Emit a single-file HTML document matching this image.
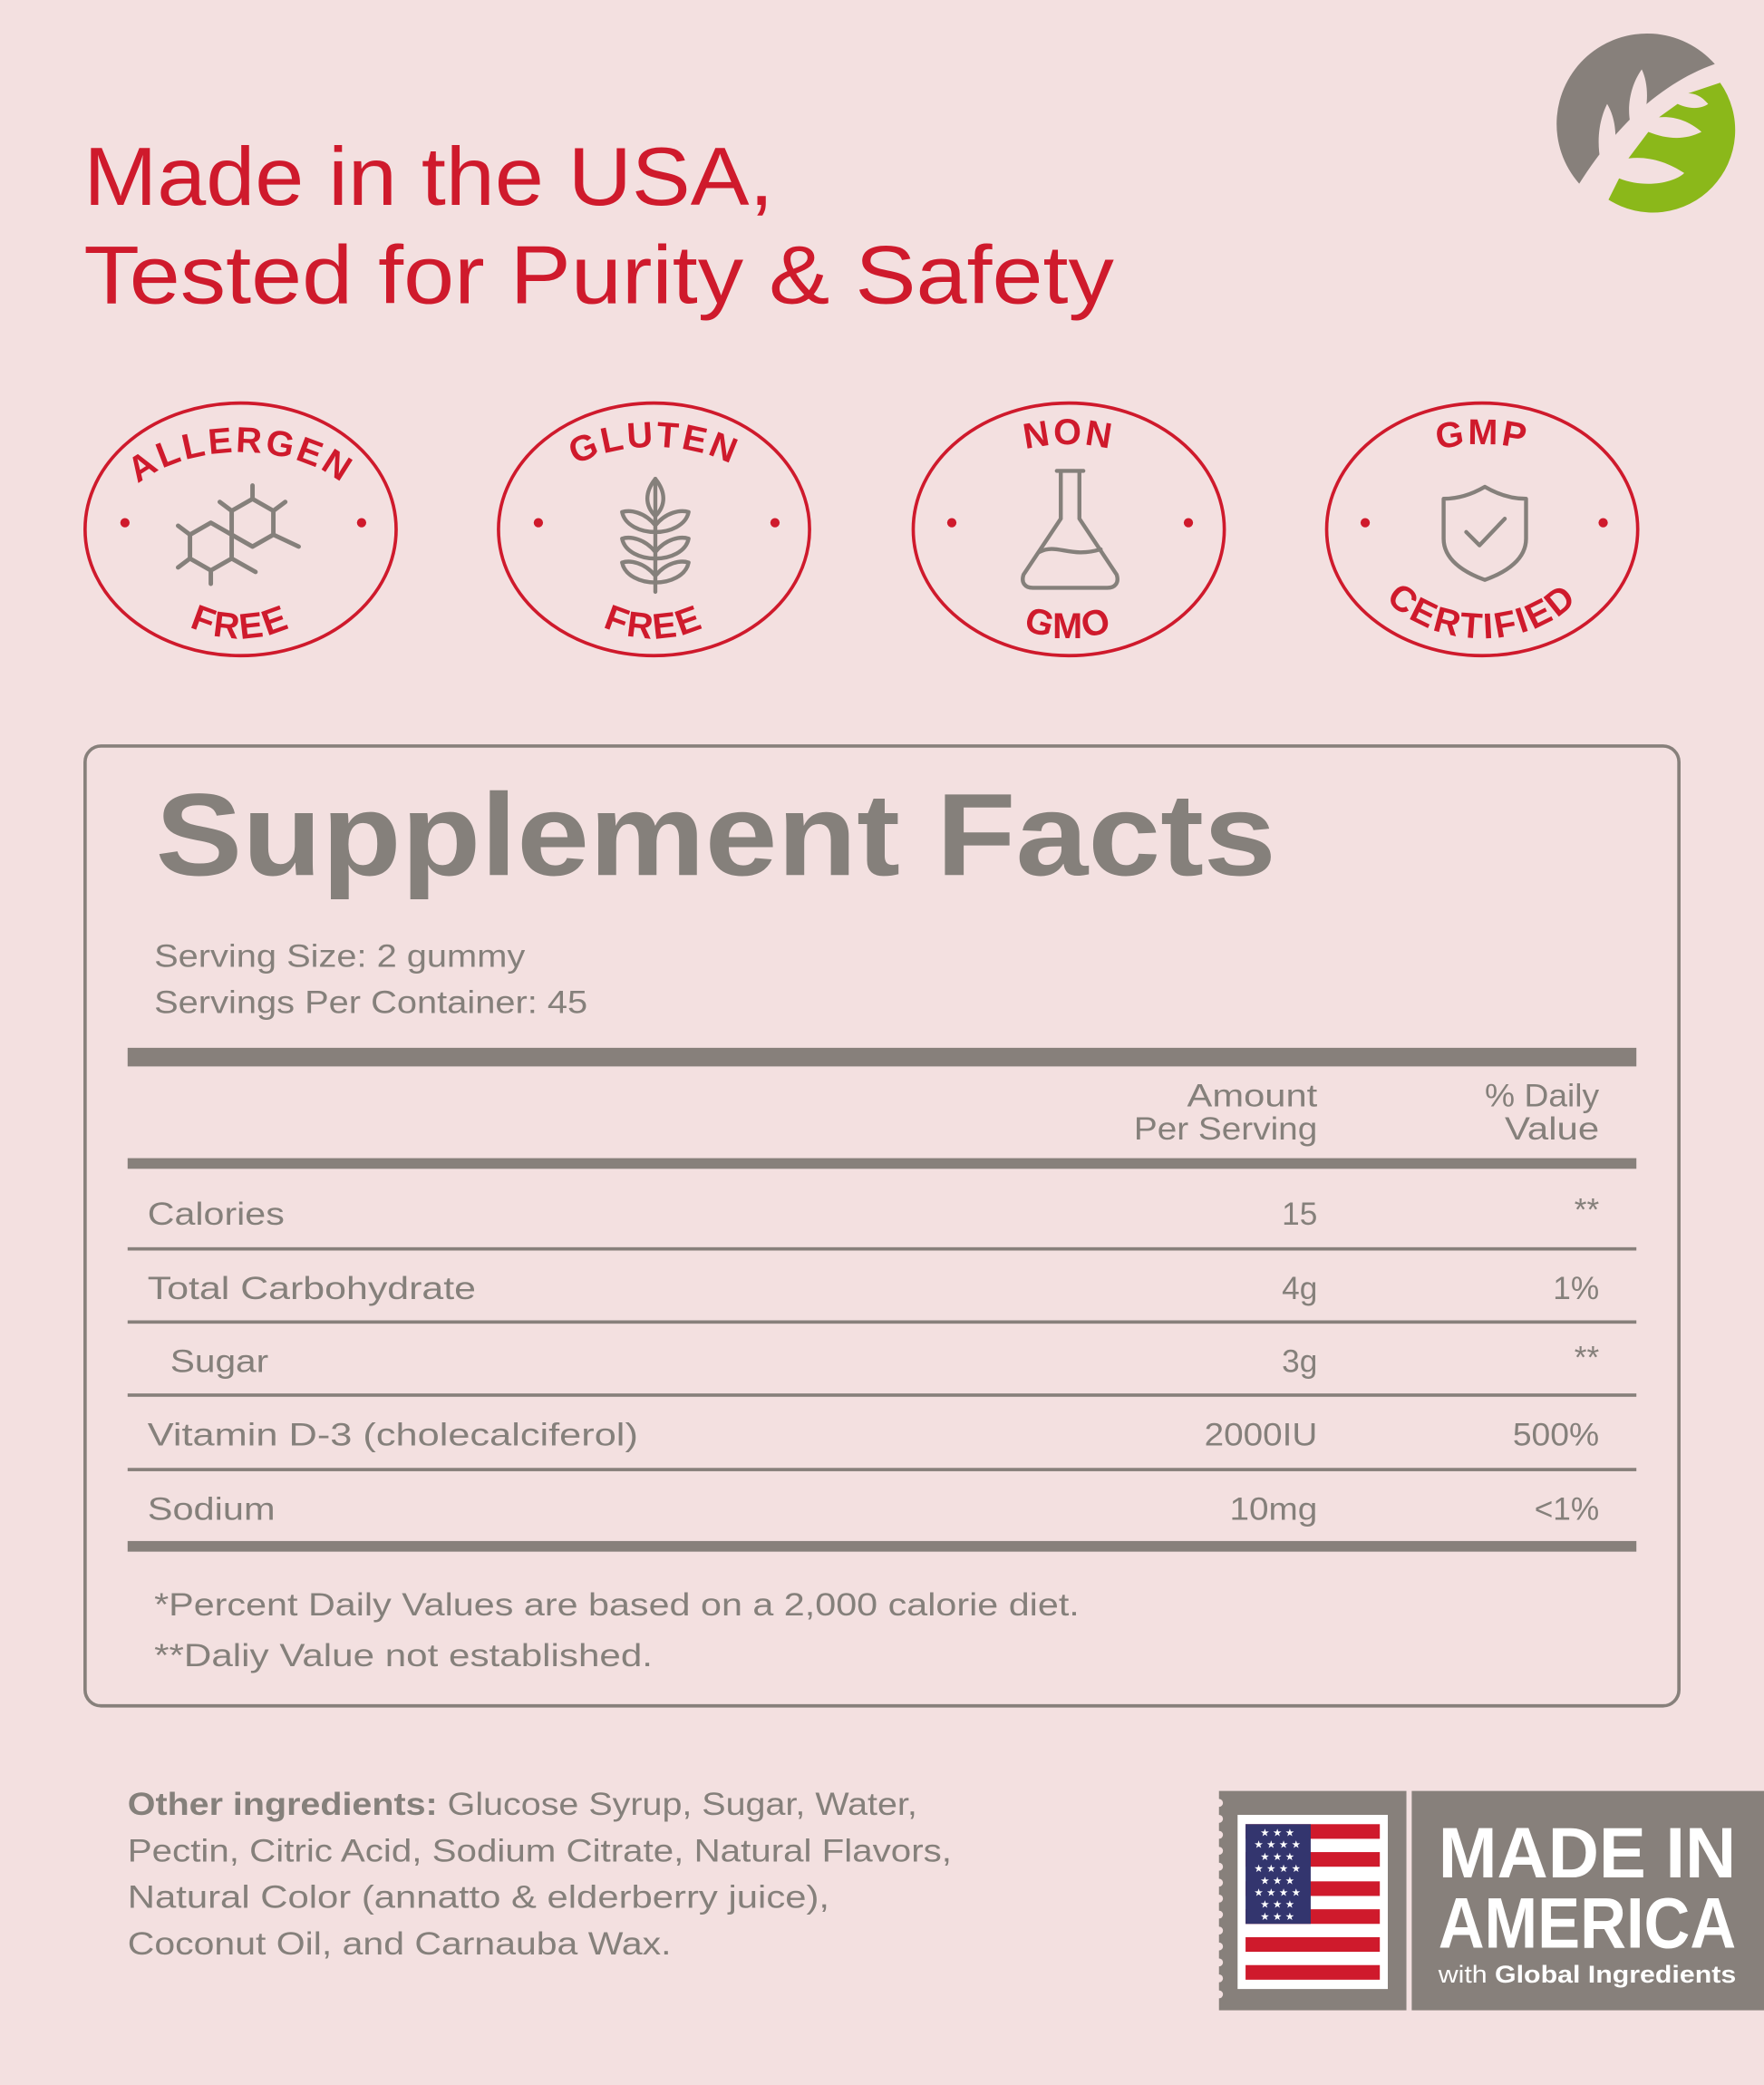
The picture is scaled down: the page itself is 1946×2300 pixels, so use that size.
<!DOCTYPE html>
<html><head><meta charset="utf-8"><style>
html,body{margin:0;padding:0;background:#f3e0e0;}
svg{display:block}
text{font-family:"Liberation Sans",sans-serif}
</style></head><body>
<svg width="1946" height="2300" viewBox="0 0 1327 1568" xmlns="http://www.w3.org/2000/svg">
<rect width="1327" height="1568" fill="#f3e0e0"/>
<!-- title -->
<text x="63" y="154" font-size="62" fill="#cf1a2c" textLength="519" lengthAdjust="spacingAndGlyphs">Made in the USA,</text>
<text x="63" y="228" font-size="62" fill="#cf1a2c" textLength="775" lengthAdjust="spacingAndGlyphs">Tested for Purity &amp; Safety</text>
<!-- logo -->
<g>
<path d="M1188,138 A62,62 0 0 1 1290,48 C1250,62 1215,95 1188,138 Z" fill="#87807b"/>
<path d="M1294,62 A62,62 0 0 1 1210,150 L1218,134 C1238,142 1260,137 1267,130 C1255,122 1240,117 1225,119 L1240,99 C1255,105 1268,105 1280,99 C1270,90 1258,87 1248,88 L1262,78 C1270,82 1280,82 1285,78 C1280,72 1275,70 1270,70 Z" fill="#8bb81a"/>
<path d="M1209,78 C1215,88 1216,100 1215,112 L1204,121 C1201,105 1203,90 1209,78 Z M1235,52 C1239,60 1240,72 1238,82 L1226,90 C1224,76 1228,62 1235,52 Z" fill="#f3e0e0"/>
</g>
<!-- badges -->
<defs>
<path id="t1" d="M86,398 A95,58 0 0 1 276,398"/>
<path id="b1" d="M96,398 A85,82 0 0 0 266,398"/>
<path id="t2" d="M397,398 A95,62 0 0 1 587,398"/>
<path id="b2" d="M407,398 A85,82 0 0 0 577,398"/>
<path id="t3" d="M709,398 A95,64 0 0 1 899,398"/>
<path id="b3" d="M719,398 A85,82 0 0 0 889,398"/>
<path id="t4" d="M1020,398 A95,64 0 0 1 1210,398"/>
<path id="b4" d="M1020,398 A95,82 0 0 0 1210,398"/>
</defs>
<g fill="none" stroke="#cf1a2c" stroke-width="2.5">
<ellipse cx="181" cy="398" rx="117" ry="95"/>
<ellipse cx="492" cy="398" rx="117" ry="95"/>
<ellipse cx="804" cy="398" rx="117" ry="95"/>
<ellipse cx="1115" cy="398" rx="117" ry="95"/>
</g>
<g fill="#cf1a2c">
<circle cx="94" cy="393" r="3.5"/><circle cx="272" cy="393" r="3.5"/>
<circle cx="405" cy="393" r="3.5"/><circle cx="583" cy="393" r="3.5"/>
<circle cx="716" cy="393" r="3.5"/><circle cx="894" cy="393" r="3.5"/>
<circle cx="1027" cy="393" r="3.5"/><circle cx="1206" cy="393" r="3.5"/>
</g>
<g font-size="27" font-weight="bold" fill="#cf1a2c" letter-spacing="2" text-anchor="middle">
<text><textPath href="#t1" startOffset="50%">ALLERGEN</textPath></text>
<text><textPath href="#b1" startOffset="50%">FREE</textPath></text>
<text><textPath href="#t2" startOffset="50%">GLUTEN</textPath></text>
<text><textPath href="#b2" startOffset="50%">FREE</textPath></text>
<text><textPath href="#t3" startOffset="50%">NON</textPath></text>
<text><textPath href="#b3" startOffset="50%">GMO</textPath></text>
<text><textPath href="#t4" startOffset="50%">GMP</textPath></text>
<text><textPath href="#b4" startOffset="50%">CERTIFIED</textPath></text>
</g>
<!-- icons -->
<g fill="none" stroke="#85807b" stroke-width="3" stroke-linecap="round" stroke-linejoin="round">
<g transform="translate(181,402) scale(1.12) translate(-175,-397)">
<path d="M183,373 L197,381 L197,397 L183,405 L169,397 L169,381 Z"/>
<path d="M169,397 L169,413 L155,421 L141,413 L141,397 L155,389 Z"/>
<path d="M183,373 L183,364 M197,381 L205,375 M197,397 L214,405 M169,381 L161,375 M141,397 L133,391 M141,413 L133,419 M155,421 L155,430 M169,413 L185,422"/>
</g>
<path d="M493,445 L493,360"/>
<path d="M493,360 C485,370 485,380 493,388 C501,380 501,370 493,360 Z"/>
<path d="M493,395 C485,385 474,383 468,385 C470,395 482,400 493,400 M493,395 C501,385 512,383 518,385 C516,395 504,400 493,400"/>
<path d="M493,415 C485,405 474,403 468,405 C470,415 482,420 493,420 M493,415 C501,405 512,403 518,405 C516,415 504,420 493,420"/>
<path d="M493,433 C485,423 474,421 468,423 C470,433 482,438 493,438 M493,433 C501,423 512,421 518,423 C516,433 504,438 493,438"/>
<path d="M795,354 L815,354 M798,354 L798,390 L770,432 C768,438 771,442 777,442 L833,442 C839,442 842,438 840,432 L812,390 L812,354"/>
<path d="M782,415 C795,408 805,420 828,413"/>
<path d="M1117,366 C1105,373 1095,375 1086,375 L1086,405 C1086,420 1100,430 1117,436 C1134,430 1148,420 1148,405 L1148,375 C1139,375 1129,373 1117,366 Z"/>
<path d="M1103,400 L1113,410 L1132,390"/>
</g>
<!-- facts box -->
<rect x="64" y="561" width="1199" height="722" rx="12" fill="none" stroke="#87807b" stroke-width="2.5"/>
<text x="117" y="658" font-size="88" font-weight="bold" fill="#85807b" textLength="843" lengthAdjust="spacingAndGlyphs">Supplement Facts</text>
<g font-size="24" fill="#85807b" lengthAdjust="spacingAndGlyphs">
<text x="116" y="727" textLength="279" lengthAdjust="spacingAndGlyphs">Serving Size: 2 gummy</text>
<text x="116" y="762" textLength="326" lengthAdjust="spacingAndGlyphs">Servings Per Container: 45</text>
</g>
<rect x="96" y="788" width="1135" height="14" fill="#87807b"/>
<g font-size="24" fill="#85807b" text-anchor="end">
<text x="991" y="832" textLength="98" lengthAdjust="spacingAndGlyphs">Amount</text>
<text x="991" y="857" textLength="138" lengthAdjust="spacingAndGlyphs">Per Serving</text>
<text x="1203" y="832" textLength="86" lengthAdjust="spacingAndGlyphs">% Daily</text>
<text x="1203" y="857" textLength="71" lengthAdjust="spacingAndGlyphs">Value</text>
</g>
<rect x="96" y="871" width="1135" height="8" fill="#87807b"/>
<g fill="#87807b">
<rect x="96" y="938" width="1135" height="2.5"/>
<rect x="96" y="993" width="1135" height="2.5"/>
<rect x="96" y="1048" width="1135" height="2.5"/>
<rect x="96" y="1104" width="1135" height="2.5"/>
<rect x="96" y="1159" width="1135" height="8"/>
</g>
<g font-size="24" fill="#85807b">
<text x="111" y="921" textLength="103" lengthAdjust="spacingAndGlyphs">Calories</text>
<text x="111" y="977" textLength="247" lengthAdjust="spacingAndGlyphs">Total Carbohydrate</text>
<text x="128" y="1032" textLength="74" lengthAdjust="spacingAndGlyphs">Sugar</text>
<text x="111" y="1087" textLength="369" lengthAdjust="spacingAndGlyphs">Vitamin D-3 (cholecalciferol)</text>
<text x="111" y="1143" textLength="96" lengthAdjust="spacingAndGlyphs">Sodium</text>
</g>
<g font-size="24" fill="#85807b" text-anchor="end">
<text x="991" y="921">15</text><text x="1203" y="918">**</text>
<text x="991" y="977">4g</text><text x="1203" y="977">1%</text>
<text x="991" y="1032">3g</text><text x="1203" y="1029">**</text>
<text x="991" y="1087" textLength="85" lengthAdjust="spacingAndGlyphs">2000IU</text><text x="1203" y="1087" textLength="65" lengthAdjust="spacingAndGlyphs">500%</text>
<text x="991" y="1143" textLength="66" lengthAdjust="spacingAndGlyphs">10mg</text><text x="1203" y="1143">&lt;1%</text>
</g>
<g font-size="24" fill="#85807b">
<text x="116" y="1215" textLength="696" lengthAdjust="spacingAndGlyphs">*Percent Daily Values are based on a 2,000 calorie diet.</text>
<text x="116" y="1253" textLength="375" lengthAdjust="spacingAndGlyphs">**Daliy Value not established.</text>
</g>
<g font-size="24" fill="#85807b">
<text x="96" y="1365" textLength="594" lengthAdjust="spacingAndGlyphs"><tspan font-weight="bold">Other ingredients:</tspan> Glucose Syrup, Sugar, Water,</text>
<text x="96" y="1400" textLength="620" lengthAdjust="spacingAndGlyphs">Pectin, Citric Acid, Sodium Citrate, Natural Flavors,</text>
<text x="96" y="1435" textLength="528" lengthAdjust="spacingAndGlyphs">Natural Color (annatto &amp; elderberry juice),</text>
<text x="96" y="1470" textLength="409" lengthAdjust="spacingAndGlyphs">Coconut Oil, and Carnauba Wax.</text>
</g>
<!-- made in america -->
<rect x="917" y="1347" width="141" height="165" fill="#87807b"/>
<rect x="1062" y="1347" width="265" height="165" fill="#87807b"/>
<g fill="#f3e0e0">
<circle cx="917" cy="1356" r="3"/><circle cx="917" cy="1368" r="3"/><circle cx="917" cy="1380" r="3"/><circle cx="917" cy="1392" r="3"/><circle cx="917" cy="1404" r="3"/><circle cx="917" cy="1416" r="3"/><circle cx="917" cy="1428" r="3"/><circle cx="917" cy="1440" r="3"/><circle cx="917" cy="1452" r="3"/><circle cx="917" cy="1464" r="3"/><circle cx="917" cy="1476" r="3"/><circle cx="917" cy="1488" r="3"/><circle cx="917" cy="1500" r="3"/>
</g>
<rect x="931" y="1365" width="113" height="131" fill="#fff"/>
<g fill="#cf1a2c">
<rect x="937" y="1372" width="101" height="11"/>
<rect x="937" y="1393" width="101" height="11"/>
<rect x="937" y="1415" width="101" height="11"/>
<rect x="937" y="1436" width="101" height="11"/>
<rect x="937" y="1457" width="101" height="11"/>
<rect x="937" y="1478" width="101" height="11"/>
</g>
<rect x="937" y="1372" width="49" height="75" fill="#33356e"/>
<g fill="#fff" font-size="8" text-anchor="middle">
<text x="961" y="1381">★ ★ ★</text>
<text x="961" y="1390">★ ★ ★ ★</text>
<text x="961" y="1399">★ ★ ★</text>
<text x="961" y="1408">★ ★ ★ ★</text>
<text x="961" y="1417">★ ★ ★</text>
<text x="961" y="1426">★ ★ ★ ★</text>
<text x="961" y="1435">★ ★ ★</text>
<text x="961" y="1444">★ ★ ★</text>
</g>
<g fill="#fff" font-weight="bold">
<text x="1082" y="1412" font-size="54" textLength="224" lengthAdjust="spacingAndGlyphs">MADE IN</text>
<text x="1082" y="1465" font-size="54" textLength="224" lengthAdjust="spacingAndGlyphs">AMERICA</text>
<text x="1082" y="1491" font-size="18" textLength="224" lengthAdjust="spacingAndGlyphs"><tspan font-weight="normal">with</tspan> Global Ingredients</text>
</g>
</svg>
</body></html>
